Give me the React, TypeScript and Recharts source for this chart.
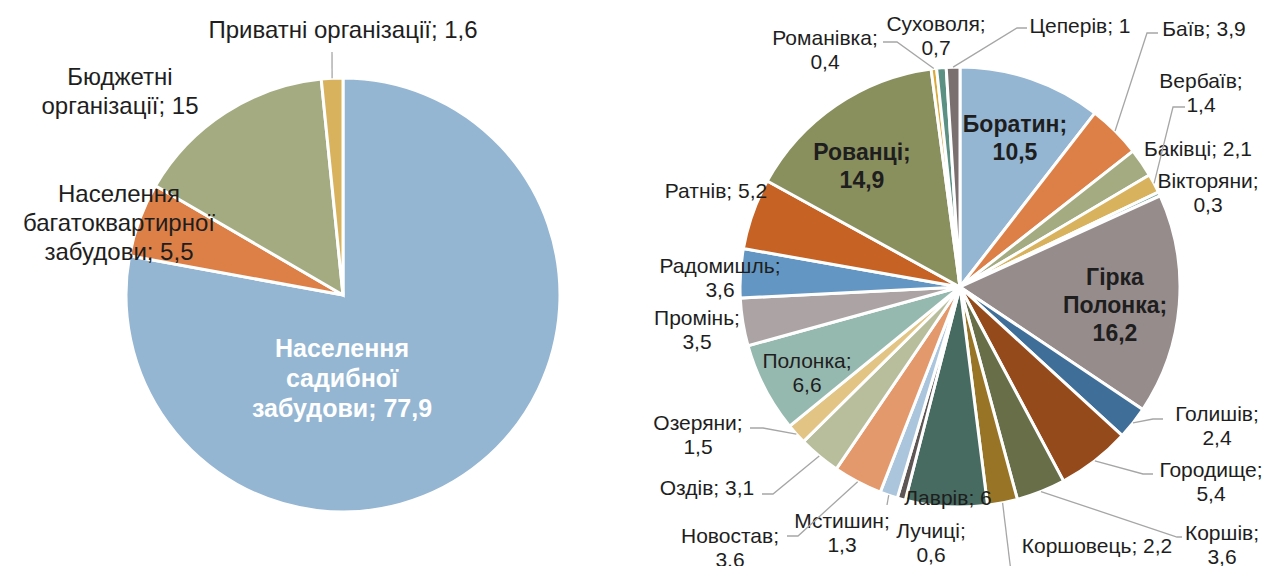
import { PieChart, Pie, Cell } from "recharts";

// left pie: structure of consumers
const leftNames = [
  "Населення садибної забудови",
  "Населення багатоквартирної забудови",
  "Бюджетні організації",
  "Приватні організації",
];
const leftValues = [77.9, 5.5, 15, 1.6];
const leftColors = ["#94B6D2", "#DD8047", "#A5AB81", "#D8B25C"];

// right pie: villages
const rightNames = [
  "Боратин", "Баїв", "Баківці", "Вербаїв", "Вікторяни", "Гірка Полонка",
  "Голишів", "Городище", "Коршів", "Коршовець", "Лаврів", "Лучиці",
  "Мстишин", "Новостав", "Оздів", "Озеряни", "Полонка", "Промінь",
  "Радомишль", "Ратнів", "Рованці", "Романівка", "Суховоля", "Цеперів",
];
const rightValues = [
  10.5, 3.9, 2.1, 1.4, 0.3, 16.2,
  2.4, 5.4, 3.6, 2.2, 6, 0.6,
  1.3, 3.6, 3.1, 1.5, 6.6, 3.5,
  3.6, 5.2, 14.9, 0.4, 0.7, 1,
];
const rightColors = [
  "#94B6D2", "#DD8047", "#A5AB81", "#D8B25C", "#7BA79D", "#968C8C",
  "#3F6E99", "#954A1C", "#686E48", "#977426", "#476B61", "#5E5555",
  "#AAC5DC", "#E4996D", "#B8BD9C", "#E2C485", "#96B9AF", "#ACA4A4",
  "#6396C2", "#C56224", "#8A8F5E", "#D9A93A", "#5B9082", "#7A706F",
];

type LabelPos = {
  dx: number;
  dy: number;
  lines: number[];
  bold?: boolean;
  white?: boolean;
  leader?: number[][];
};

// label placement relative to pie centre
const leftLabels: LabelPos[] = [
  { dx: -1, dy: 53, lines: [1, 1, 2], bold: true, white: true },
  { dx: -224, dy: -102, lines: [1, 1, 2] },
  { dx: -223, dy: -219, lines: [1, 2] },
  { dx: 0, dy: -266, lines: [3], leader: [[-11, -243]] },
];

const rightLabels: LabelPos[] = [
  { dx: 55, dy: -163, lines: [1, 1], bold: true },
  { dx: 244, dy: -259, lines: [2], leader: [[198, -254], [187, -254]] },
  { dx: 238, dy: -139, lines: [2] },
  { dx: 241, dy: -207, lines: [1, 1], leader: [[225, -180], [213, -180]] },
  { dx: 248, dy: -107, lines: [1, 1] },
  { dx: 155, dy: -10, lines: [1, 1, 1], bold: true },
  { dx: 257, dy: 126, lines: [1, 1], leader: [[203, 132], [193, 132]] },
  { dx: 251, dy: 182, lines: [1, 1], leader: [[193, 187], [183, 187]] },
  { dx: 262, dy: 245, lines: [1, 1], leader: [[222, 250], [217, 250]] },
  { dx: 137, dy: 258, lines: [2], leader: [[51, 285]] },
  { dx: -12, dy: 210, lines: [2] },
  { dx: -29, dy: 243, lines: [1, 1] },
  { dx: -118, dy: 233, lines: [1, 1], leader: [[-73, 218]] },
  { dx: -230, dy: 248, lines: [1, 1], leader: [[-173, 249], [-162, 249]] },
  { dx: -253, dy: 200, lines: [2], leader: [[-198, 207], [-187, 207]] },
  { dx: -262, dy: 135, lines: [1, 1], leader: [[-210, 141], [-197, 141]] },
  { dx: -153, dy: 73, lines: [1, 1] },
  { dx: -263, dy: 30, lines: [1, 1] },
  { dx: -240, dy: -22, lines: [1, 1] },
  { dx: -244, dy: -97, lines: [2] },
  { dx: -98, dy: -135, lines: [1, 1], bold: true },
  { dx: -135, dy: -250, lines: [1, 1], leader: [[-77, -245], [-63, -245]] },
  { dx: -24, dy: -264, lines: [1, 1] },
  { dx: 120, dy: -262, lines: [2], leader: [[67, -259], [57, -259]] },
];

const leftData = leftNames.map((name, i) => ({ name, value: leftValues[i] }));
const rightData = rightNames.map((name, i) => ({ name, value: rightValues[i] }));

const FONT = "'Liberation Sans', Arial, sans-serif";
const RAD = Math.PI / 180;

function makeLabel(layout: LabelPos[], size: number, boldSize: number, lineH: number, boldLineH: number) {
  return (p: any) => {
    const pos = layout[p.index];
    if (!pos) return null;
    const text = `${p.name}; ${String(p.value).replace(".", ",")}`;
    const words = text.split(" ");
    const rows: string[] = [];
    let k = 0;
    pos.lines.forEach((n) => {
      rows.push(words.slice(k, k + n).join(" "));
      k += n;
    });
    const fs = pos.bold ? boldSize : size;
    const lh = pos.bold ? boldLineH : lineH;
    const x = p.cx + pos.dx;
    const y0 = p.cy + pos.dy;
    let line = null;
    if (pos.leader) {
      const ex = p.cx + p.outerRadius * Math.cos(-p.midAngle * RAD);
      const ey = p.cy + p.outerRadius * Math.sin(-p.midAngle * RAD);
      const pts = pos.leader.map(([a, b]) => `${p.cx + a},${p.cy + b}`);
      pts.push(`${ex},${ey}`);
      line = <polyline points={pts.join(" ")} fill="none" stroke="#A6A6A6" strokeWidth={1.3} />;
    }
    return (
      <g key={`lbl-${p.index}`}>
        {line}
        <text
          x={x}
          y={y0}
          textAnchor="middle"
          fontFamily={FONT}
          fontSize={fs}
          fontWeight={pos.bold ? "bold" : "normal"}
          fill={pos.white ? "#FFFFFF" : "#1E1E1E"}
        >
          {rows.map((r, i) => (
            <tspan key={i} x={x} y={y0 + i * lh} dominantBaseline="central">
              {r}
            </tspan>
          ))}
        </text>
      </g>
    );
  };
}

export default function App() {
  return (
    <div style={{ position: "absolute", left: 0, top: 0, width: 1266, height: 566, background: "#fff" }}>
      <PieChart width={1266} height={566} margin={{ top: 0, right: 0, bottom: 0, left: 0 }}>
        <Pie
          data={leftData}
          dataKey="value"
          nameKey="name"
          cx={343}
          cy={295}
          outerRadius={217}
          startAngle={90}
          endAngle={-270}
          stroke="#FFFFFF"
          strokeWidth={3}
          label={makeLabel(leftLabels, 24, 25, 29, 30)}
          labelLine={false}
          isAnimationActive={false}
        >
          {leftData.map((d, i) => (
            <Cell key={d.name} fill={leftColors[i]} />
          ))}
        </Pie>
        <Pie
          data={rightData}
          dataKey="value"
          nameKey="name"
          cx={960}
          cy={287}
          outerRadius={220}
          startAngle={90}
          endAngle={-270}
          stroke="#FFFFFF"
          strokeWidth={3}
          label={makeLabel(rightLabels, 21, 23, 24, 28)}
          labelLine={false}
          isAnimationActive={false}
        >
          {rightData.map((d, i) => (
            <Cell key={d.name} fill={rightColors[i]} />
          ))}
        </Pie>
      </PieChart>
    </div>
  );
}
